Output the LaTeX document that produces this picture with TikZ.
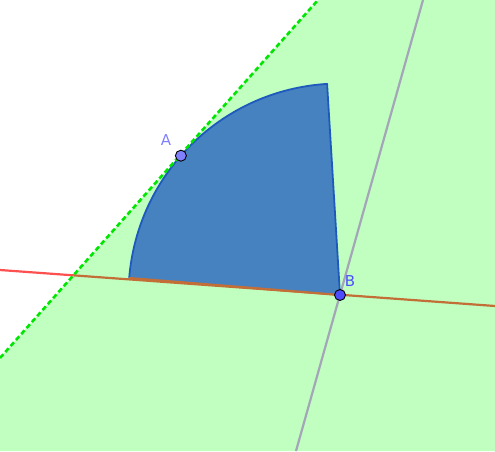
\documentclass[tikz,border=0pt]{standalone}
\usepackage{fontspec}
\setmainfont{DejaVu Sans}
\begin{document}
\begin{tikzpicture}[x=1pt,y=1pt,
  ptstyle/.style={circle,draw=black,line width=0.9pt,inner sep=0pt,minimum size=11pt},
  lbl/.style={font=\fontsize{15}{15}\selectfont,inner sep=0pt}]
\definecolor{regiongreen}{RGB}{192,255,192}
\definecolor{dashgreen}{RGB}{0,230,0}
\definecolor{secfill}{RGB}{70,130,192}
\definecolor{secedge}{RGB}{30,90,190}
\definecolor{redline}{RGB}{255,80,80}
\definecolor{brownline}{RGB}{195,110,55}
\definecolor{grayline}{RGB}{165,165,185}
\definecolor{ptA}{RGB}{128,128,255}
\definecolor{ptB}{RGB}{77,77,255}
\useasboundingbox (0,0) rectangle (495,451);
\coordinate (dL) at (0,93);
\coordinate (dT) at (318,451);
\coordinate (rL) at (0,181);
\coordinate (rR) at (495,145);
\coordinate (gB) at (296,0);
\coordinate (gT) at (423,451);
\coordinate (Bc) at (340,156);
% green region
\fill[regiongreen] (dL) -- (dT) -- (495,451) -- (495,0) -- (0,0) -- cycle;
% gray line
\draw[grayline,line width=2.2pt] (gB) -- (gT);
% red line (brownish over green)
\begin{scope}
\clip (0,451) -- (dL) -- (dT) -- cycle;
\draw[redline,line width=2.2pt] (rL) -- (rR);
\end{scope}
\begin{scope}
\clip (dL) -- (dT) -- (495,451) -- (495,0) -- (0,0) -- cycle;
\draw[brownline,line width=2.2pt] (rL) -- (rR);
\end{scope}
% sector
\fill[secfill] (Bc) -- ++(175.4:211.5) arc[start angle=175.4, end angle=93.5, radius=211.5] -- cycle;
\draw[secedge,line width=1.8pt,line join=round] (Bc) ++(175.4:211.5) arc[start angle=175.4, end angle=93.5, radius=211.5] -- (Bc);
\draw[brownline,line width=2.2pt] (Bc) -- ++(175.4:211.5);
% dashed tangent
\draw[dashgreen,line width=2.6pt,dash pattern=on 5pt off 3pt] (dL) -- (dT);
% points
\node[ptstyle,fill=ptA] (A) at (180.9,295.3) {};
\node[ptstyle,fill=ptB] (B) at (Bc) {};
\node[lbl,text=ptA] (Alab) at (166,311) {A};
\node[lbl,text=ptB] (Blab) at (350,170) {B};
\end{tikzpicture}
\end{document}
